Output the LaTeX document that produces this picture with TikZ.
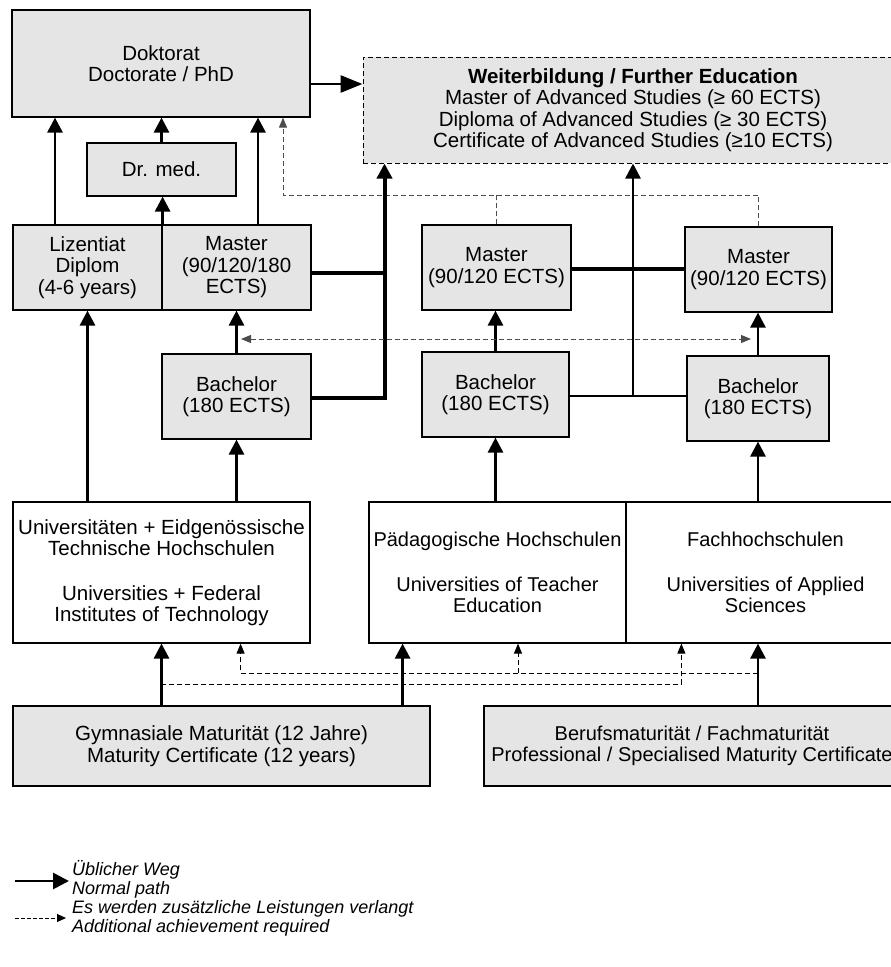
\documentclass[tikz,border=0pt]{standalone}
\usepackage{fontspec}
\setmainfont{Liberation Sans}
\usepackage{tikz}
\usetikzlibrary{arrows.meta}
\definecolor{boxgray}{gray}{0.9}
\tikzstyle{box}=[rectangle, draw=black, line width=1.2pt, fill=boxgray, align=center, inner sep=0pt, font=\fontsize{20.5}{21.5}\selectfont]
\tikzstyle{wbox}=[box, fill=white]
\tikzstyle{usual}=[line width=2.8pt, -{Triangle[width=15pt,length=15pt]}]
\tikzstyle{extra}=[line width=1pt, dash pattern=on 5pt off 3pt, -{Triangle[width=8pt,length=10pt]}]
\tikzstyle{extraline}=[line width=1pt, dash pattern=on 5pt off 3pt]
\tikzstyle{legend}=[anchor=west, align=left, inner sep=0pt, font=\itshape\fontsize{18}{19}\selectfont]

\begin{document}
\begin{tikzpicture}[x=1pt, y=-1pt]
\useasboundingbox (0,0) rectangle (891,967);
\node[box, minimum width=298pt, minimum height=107pt] (Dok) at (161,63.5) {Doktorat\\Doctorate / PhD};
\node[box, line width=1pt, dash pattern=on 5pt off 3pt, minimum width=540pt, minimum height=106pt] (WB) at (633,110)
  {\textbf{Weiterbildung / Further Education}\\Master of Advanced Studies (≥ 60 ECTS)\\Diploma of Advanced Studies (≥ 30 ECTS)\\Certificate of Advanced Studies (≥10 ECTS)};
\node[box, minimum width=149pt, minimum height=53pt] (Dr) at (161.5,169.5) {Dr. med.};
\node[box, minimum width=149pt, minimum height=85pt] (Liz) at (87.5,267.5) {Lizentiat\\Diplom\\(4-6 years)};
\node[box, minimum width=149pt, minimum height=85pt] (M1) at (236.5,267.5) {Master\\(90/120/180\\ECTS)};
\node[box, minimum width=149pt, minimum height=85pt] (B1) at (236.5,396.5) {Bachelor\\(180 ECTS)};
\node[box, minimum width=149pt, minimum height=85pt] (M2) at (496.5,267.5) {Master\\(90/120 ECTS)};
\node[box, minimum width=147pt, minimum height=85pt] (B2) at (495.5,394.5) {Bachelor\\(180 ECTS)};
\node[box, minimum width=147pt, minimum height=85pt] (M3) at (758.5,269.5) {Master\\(90/120 ECTS)};
\node[box, minimum width=142pt, minimum height=85pt] (B3) at (758,398.5) {Bachelor\\(180 ECTS)};
\node[wbox, minimum width=297pt, minimum height=141pt] (U) at (161.5,572.5)
  {Universitäten + Eidgenössische\\Technische Hochschulen\\[23pt]Universities + Federal\\Institutes of Technology};
\node[wbox, minimum width=257pt, minimum height=141pt, font=\fontsize{20}{21.5}\selectfont] (PH) at (497.5,572.5)
  {Pädagogische Hochschulen\\[23pt]Universities of Teacher\\Education};
\node[wbox, minimum width=279pt, minimum height=141pt, font=\fontsize{20}{21.5}\selectfont] (FH) at (765.5,572.5)
  {Fachhochschulen\\[23pt]Universities of Applied\\Sciences};
\node[box, minimum width=417pt, minimum height=80pt] (GM) at (221.5,746)
  {Gymnasiale Maturität (12 Jahre)\\Maturity Certificate (12 years)};
\node[box, minimum width=416pt, minimum height=80pt, font=\fontsize{20}{21.5}\selectfont] (BM) at (692,746)
  {Berufsmaturität / Fachmaturität\\Professional / Specialised Maturity Certificate};

\draw[usual, -{Triangle[width=17pt,length=22pt]}] ([yshift=-20.5pt]Dok.east) -- ([yshift=-20.5pt]Dok.east -| WB.west);
\draw[usual] ([xshift=-32.5pt]Liz.north) -- ([xshift=-32.5pt]Liz.north |- Dok.south);
\draw[usual] (Dr.north) -- (Dr.north |- Dok.south);
\draw[usual] (Liz.north east) -- (Liz.north east |- Dr.south);
\draw[usual] ([xshift=21.5pt]M1.north) -- ([xshift=21.5pt]M1.north |- Dok.south);

\coordinate (dk) at (283,195);
\draw[extra, black!70] (M3.north) |- (dk) -- (dk |- Dok.south);
\draw[extraline, black!70] (M2.north) -- (M2.north |- dk);

\coordinate (wl) at ([xshift=22pt]WB.south west);
\draw[line width=3.5pt] ([yshift=-5.5pt]M1.east) -- ([yshift=-5.5pt]M1.east -| wl);
\draw[usual, line width=4pt] ([yshift=-1.5pt]B1.east) -| (wl);
\draw[line width=4pt] ([yshift=-1.5pt]M2.east) -- ([yshift=-1.5pt]M2.east -| M3.west);
\draw[line width=2.5pt] ([yshift=-1.5pt]B2.east) -- ([yshift=-1.5pt]B2.east -| B3.west);
\draw[usual, line width=2.5pt] ([yshift=-1.5pt]B2.east -| WB.south) -- (WB.south);

\draw[usual] (B1.north) -- (M1.south);
\draw[usual] (B2.north) -- (B2.north |- M2.south);
\draw[usual] (B3.north) -- (B3.north |- M3.south);
\coordinate (xl) at (241,339);
\coordinate (xr) at (751,339);
\draw[extra, black!70, {Triangle[width=8pt,length=10pt]}-{Triangle[width=8pt,length=10pt]}] (xl) -- (xr);

\draw[usual] (Liz.south |- U.north) -- (Liz.south);
\draw[usual] (B1.south |- U.north) -- (B1.south);
\draw[usual] (B2.south |- PH.north) -- (B2.south);
\draw[usual] (B3.south |- FH.north) -- (B3.south);

\draw[usual] (GM.north -| U.south) -- (U.south);
\draw[usual] ([xshift=-28pt]GM.north east) -- ([xshift=-28pt]GM.north east |- PH.south);
\draw[usual] (BM.north -| B3.south) -- (B3.south |- FH.south);
\coordinate (gd) at (161,684);
\coordinate (bd) at (758,673);
\draw[extra] (gd) -| ([xshift=56pt]FH.south west);
\draw[extra] (bd) -| ([xshift=-70pt]U.south east);
\draw[extra] ([xshift=20.5pt]PH.south |- bd) -- ([xshift=20.5pt]PH.south);

\node[legend] (N1) at (72,879) {Üblicher Weg\\Normal path};
\node[legend] (N2) at (72,918) {Es werden zusätzliche Leistungen verlangt\\Additional achievement required};
\draw[usual, -{Triangle[width=16pt,length=16pt]}] ([xshift=-57pt,yshift=-2pt]N1.west) -- ([xshift=-3pt,yshift=-2pt]N1.west);
\draw[extra, dash pattern=on 4pt off 2pt, -{Triangle[width=8pt,length=9pt]}] ([xshift=-57pt]N2.west) -- ([xshift=-6pt]N2.west);
\end{tikzpicture}
\end{document}
